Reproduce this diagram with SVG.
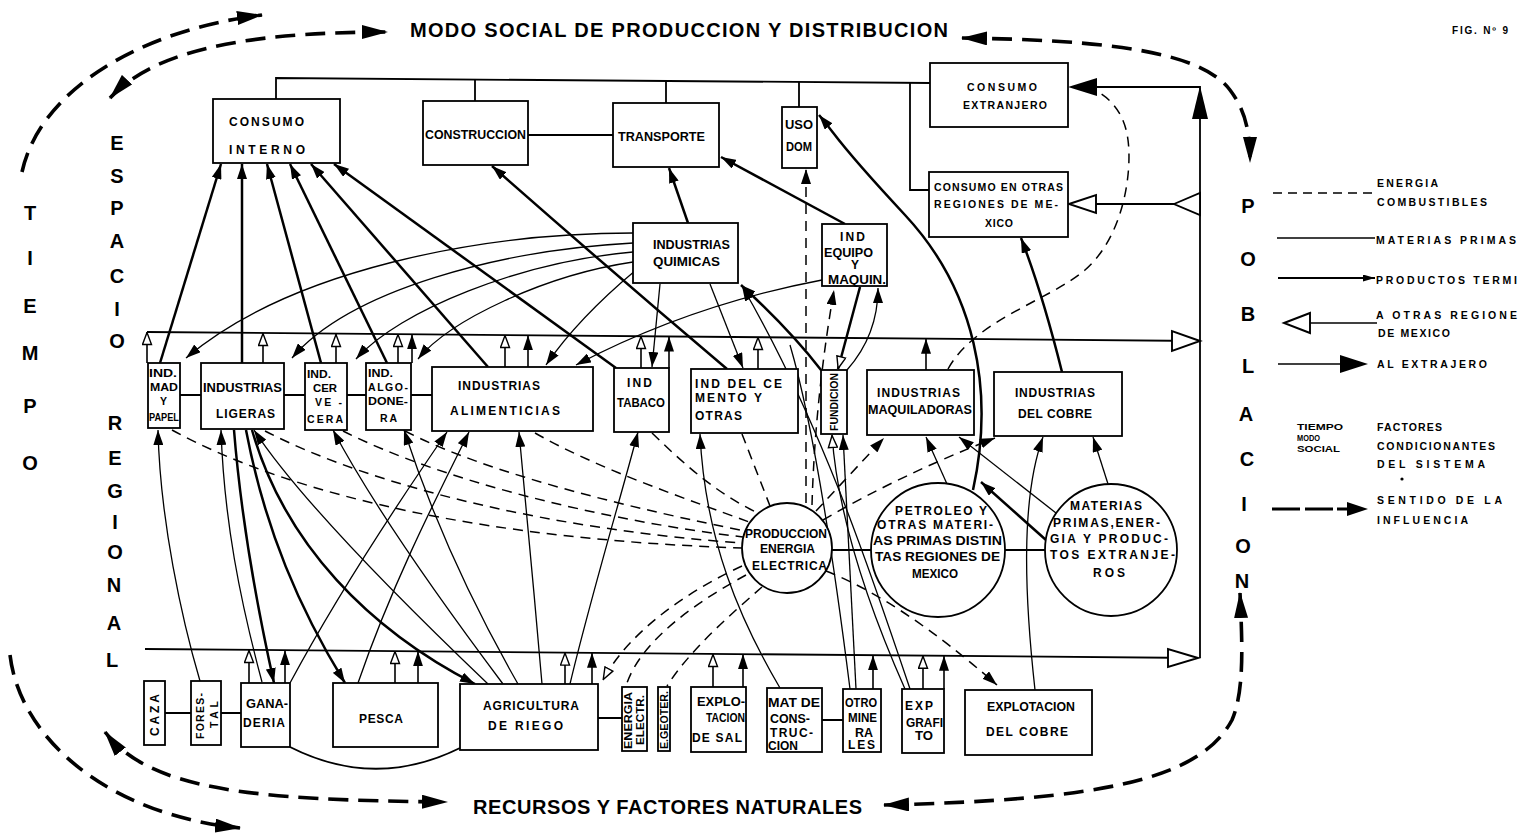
<svg xmlns="http://www.w3.org/2000/svg" width="1518" height="834" viewBox="0 0 1518 834">
<defs>
<style>
.b{fill:#fff;stroke:#000;stroke-width:1.8}
text{font-family:"Liberation Sans",Arial,sans-serif;font-weight:bold;fill:#000}
.t{font-size:12px}
.s{font-size:10.5px}
.v{font-size:20px;text-anchor:middle}
.lg{font-size:10.5px}
.ln{fill:none;stroke:#000;stroke-width:1.8}
.tn{fill:none;stroke:#000;stroke-width:1.3}
.tk{fill:none;stroke:#000;stroke-width:2.5}
.dh{fill:none;stroke:#000;stroke-width:1.5;stroke-dasharray:10 7}
.inf{fill:none;stroke:#000;stroke-width:3.6;stroke-dasharray:20 10}
.ua{fill:none;stroke:#000;stroke-width:1.6}
.ot{fill:#fff;stroke:#000;stroke-width:1.9}
</style>
<marker id="f" markerUnits="userSpaceOnUse" markerWidth="15" markerHeight="10" refX="15" refY="5" orient="auto"><path d="M0,0L15,5L0,10z" fill="#000"/></marker>
<marker id="o" markerUnits="userSpaceOnUse" markerWidth="14" markerHeight="11" refX="13.5" refY="5.5" orient="auto"><path d="M1,1L13,5.5L1,10z" fill="#fff" stroke="#000" stroke-width="1.4"/></marker>
<marker id="B" markerUnits="userSpaceOnUse" markerWidth="26" markerHeight="14" refX="25" refY="7" orient="auto-start-reverse"><path d="M0,0L26,7L0,14z" fill="#000"/></marker>
<marker id="sm" markerUnits="userSpaceOnUse" markerWidth="12" markerHeight="7" refX="12" refY="3.5" orient="auto"><path d="M0,0L12,3.5L0,7z" fill="#000"/></marker>
</defs>
<rect width="1518" height="834" fill="#fff"/>

<g id="titles">
<text x="410" y="37" font-size="20" textLength="538" lengthAdjust="spacing">MODO SOCIAL DE PRODUCCION Y DISTRIBUCION</text>
<text x="473" y="814" font-size="20" textLength="389" lengthAdjust="spacing">RECURSOS Y FACTORES NATURALES</text>
<text x="1452" y="34" font-size="10" textLength="56" lengthAdjust="spacing">FIG. Nº 9</text>
</g>
<g id="tiempo" class="v">
<text x="30" y="220">T</text><text x="30" y="265">I</text><text x="30" y="313">E</text><text x="30" y="360">M</text><text x="30" y="413">P</text><text x="30" y="470">O</text>
</g>
<g id="espacio-regional" class="v">
<text x="117" y="150">E</text><text x="117" y="183">S</text><text x="117" y="215">P</text><text x="117" y="248">A</text><text x="117" y="283">C</text><text x="117" y="316">I</text><text x="117" y="348">O</text>
<text x="115" y="430">R</text><text x="115" y="465">E</text><text x="115" y="498">G</text><text x="115" y="529">I</text><text x="115" y="559">O</text><text x="114" y="592">N</text><text x="114" y="630">A</text><text x="112" y="667">L</text>
</g>
<g id="poblacion" class="v">
<text x="1248" y="213">P</text><text x="1248" y="266">O</text><text x="1248" y="321">B</text><text x="1248" y="373">L</text><text x="1246" y="421">A</text><text x="1247" y="466">C</text><text x="1244" y="511">I</text><text x="1243" y="553">O</text><text x="1242" y="588">N</text>
</g>

<g id="connectors">
<path class="ln" d="M276,99 V78 L930,83"/>
<path class="ln" d="M475,101 V80 M666,103 V81 M799,107 V82"/>
<path class="ln" d="M910,83 V190 H929"/>
<path class="ln" d="M528,135 H613"/>
<path class="ln" d="M1200,658 V87 H1096"/>
<polygon points="1200,86 1192,119 1208,119" fill="#000"/>
<polygon points="1068,87 1097,78 1097,96" fill="#000"/>
<path class="ln" d="M1200,204 H1096"/>
<polygon class="ot" points="1069,204 1096,195 1096,213"/>
<polygon class="ot" points="1174,204 1200,193 1200,215"/>
<path class="ln" d="M147,332 L1200,341"/>
<polygon class="ot" points="1200,341 1172,331 1172,351"/>
<path class="ln" d="M145,649 L1198,658"/>
<polygon class="ot" points="1198,658 1168,649 1168,667"/>
<path class="ln" d="M180,395 H201 M284,395 H305 M347,395 H366 M411,395 H432"/>
<path class="ln" d="M165,713 H191 M221,713 H241 M598,718 H622 M822,720 H843"/>
<path class="ln" d="M832,550 H872 M1005,550 H1045"/>
<path class="ln" d="M290,747 Q375,790 460,748"/>

<g class="ua" marker-end="url(#o)">
<path d="M147,363 V332"/><path d="M263,363 V333"/><path d="M336,363 V334"/><path d="M398,363 V334"/><path d="M505,367 V335"/><path d="M641,368 V336"/><path d="M758,369 V337"/>
<path d="M249,683 V650"/><path d="M395,683 V651"/><path d="M565,684 V652.6"/><path d="M713,687 V654"/><path d="M923,689 V655.7"/>
</g>
<g class="ua" marker-end="url(#f)">
<path d="M412,363 V334.3"/><path d="M528,367 V335.3"/><path d="M669,368 V336.5"/><path d="M926,370 V338.7"/>
<path d="M285,683 V650.2"/><path d="M418,683 V651.3"/><path d="M592,684 V652.8"/><path d="M743,687 V654.1"/><path d="M873,689 V655.2"/><path d="M944,689 V655.8"/>
</g>

<g class="tk" marker-end="url(#f)">
<path d="M160,363 L221,164"/>
<path d="M242,363 V164"/>
<path d="M321,363 L267,164"/>
<path d="M387,363 L290,164"/>
<path d="M488,367 L311,164"/>
<path d="M616,368 L334,164"/>
<path d="M727,369 Q610,270 492,166"/>
<path d="M688,223 L669,168"/>
<path d="M845,224 L721,157"/>
<path d="M821,370 Q790,330 741,285"/>
<path d="M973,490 C995,390 975,290 905,215 S840,140 819,115"/>
<path d="M1062,372 Q1042,292 1021,238"/>
<path d="M1046,540 L981,482"/>
<path d="M234,430 C242,530 260,620 274,683"/>
<path d="M246,430 C265,530 300,610 345,683"/>
<path d="M252,430 C285,545 370,630 475,684"/>
</g>
<path class="tk" d="M860,287 L838,369" marker-end="url(#o)"/>

<g class="tn" marker-end="url(#f)">
<path d="M200,681 C182,620 160,520 158,430"/>
<path d="M262,682 C240,600 224,520 221,430"/>
<path d="M290,683 C340,590 400,500 447,432"/>
<path d="M358,683 C390,590 430,510 469,432"/>
<path d="M488,684 C400,600 300,500 254,430"/>
<path d="M503,684 C440,600 370,500 333,430"/>
<path d="M518,684 C470,600 430,510 404,430"/>
<path d="M542,684 C535,600 525,500 519,432"/>
<path d="M570,684 C590,600 620,500 638,432"/>
<path d="M780,688 C740,620 705,540 700,434"/>
<path d="M856,689 L843,435"/>
<path d="M910,689 C870,570 820,420 742,286"/>
<path d="M947,484 L926,437"/>
<path d="M1056,513 L959,437"/>
<path d="M1108,484 L1093,437"/>
<path d="M1035,690 C1025,600 1020,500 1043,437"/>
<path d="M847,370 Q878,335 878,288"/>
<path d="M633,233 C480,233 290,270 186,358"/>
<path d="M633,243 C500,250 350,290 292,358"/>
<path d="M633,252 C520,262 400,310 356,359"/>
<path d="M633,262 C545,275 450,320 418,359"/>
<path d="M636,270 C600,300 570,330 546,365"/>
<path d="M822,280 Q690,305 576,365"/>
<path d="M660,284 L652,367"/>
<path d="M710,284 L743,368"/>
</g>
<path class="tn" d="M905,689 C870,610 838,520 832,435" marker-end="url(#o)"/>
<path class="tn" d="M850,689 C835,570 815,430 790,345"/>

<g class="dh">
<path d="M172,430 C300,500 500,540 742,548"/>
<path d="M265,431 C380,490 560,530 742,543"/>
<path d="M343,431 C440,480 600,520 743,537"/>
<path d="M405,431 C490,475 640,510 745,531"/>
<path d="M535,433 C600,470 690,500 749,522"/>
<path d="M652,433 C690,470 720,495 758,513"/>
<path d="M742,434 L770,506"/>
<path d="M746,575 C700,600 640,640 626,686"/>
<path d="M762,587 C730,615 690,650 667,686"/>
<path d="M948,369 C975,320 1050,300 1085,270 C1125,235 1132,170 1128,140 C1125,115 1112,100 1098,92"/>
</g>
<g class="dh" marker-end="url(#f)">
<path d="M806,503 V169"/>
<path d="M812,505 Q815,400 834,290"/>
<path d="M816,511 L884,438"/>
<path d="M823,520 Q900,475 995,438"/>
<path d="M826,571 Q900,600 997,685"/>
</g>
<path class="dh" d="M742,566 C690,590 630,630 603,680" marker-end="url(#o)"/>

<g class="inf">
<path d="M22,172 C40,90 140,30 262,15" marker-end="url(#B)"/>
<path d="M110,98 C150,55 230,32 387,32" marker-start="url(#B)" marker-end="url(#B)"/>
<path d="M962,38 C1100,40 1200,50 1230,90 C1245,110 1250,130 1250,162" marker-start="url(#B)" marker-end="url(#B)"/>
<path d="M10,655 C20,740 110,815 240,828" marker-end="url(#B)"/>
<path d="M105,732 C150,790 250,800 447,802" marker-start="url(#B)" marker-end="url(#B)"/>
<path d="M884,805 C1100,800 1200,780 1232,720 C1245,690 1242,640 1240,593" marker-start="url(#B)" marker-end="url(#B)"/>
</g>
</g>

<g id="consumo-interno"><rect class="b" x="213" y="99" width="127" height="64"/><text class="t" x="229" y="126" textLength="75" lengthAdjust="spacing">CONSUMO</text><text class="t" x="229" y="154" textLength="76" lengthAdjust="spacing">INTERNO</text></g>
<g id="construccion"><rect class="b" x="423" y="101" width="105" height="64"/><text class="t" x="425" y="139" textLength="101" lengthAdjust="spacingAndGlyphs">CONSTRUCCION</text></g>
<g id="transporte"><rect class="b" x="613" y="103" width="106" height="64"/><text class="t" x="618" y="141" textLength="87" lengthAdjust="spacingAndGlyphs">TRANSPORTE</text></g>
<g id="uso-dom"><rect class="b" x="782" y="107" width="35" height="61"/><text class="t" x="785" y="129" textLength="28" lengthAdjust="spacingAndGlyphs">USO</text><text class="t" x="786" y="151" textLength="26" lengthAdjust="spacingAndGlyphs">DOM</text></g>
<g id="consumo-extranjero"><rect class="b" x="930" y="63" width="138" height="64"/><text class="s" x="967" y="91" textLength="70" lengthAdjust="spacing">CONSUMO</text><text class="s" x="963" y="109" textLength="84" lengthAdjust="spacing">EXTRANJERO</text></g>
<g id="consumo-otras-regiones"><rect class="b" x="929" y="172" width="139" height="65"/><text class="s" x="934" y="191" textLength="129" lengthAdjust="spacing">CONSUMO EN OTRAS</text><text class="s" x="934" y="208" textLength="124" lengthAdjust="spacing">REGIONES DE ME-</text><text class="s" x="985" y="227" textLength="28" lengthAdjust="spacing">XICO</text></g>
<g id="industrias-quimicas"><rect class="b" x="633" y="223" width="105" height="60"/><text class="t" x="653" y="249" textLength="77" lengthAdjust="spacingAndGlyphs">INDUSTRIAS</text><text class="t" x="653" y="266" textLength="67" lengthAdjust="spacingAndGlyphs">QUIMICAS</text></g>
<g id="ind-equipo"><rect class="b" x="822" y="224" width="65" height="62"/><text class="t" x="840" y="241" textLength="25" lengthAdjust="spacing">IND</text><text class="t" x="824" y="257" textLength="49" lengthAdjust="spacingAndGlyphs">EQUIPO</text><text class="t" x="851" y="269">Y</text><text class="t" x="828" y="284" textLength="58" lengthAdjust="spacingAndGlyphs">MAQUIN.</text></g>

<g id="ind-mad-papel"><rect class="b" x="148" y="363" width="32" height="65"/><text class="s" x="149" y="377" textLength="28" lengthAdjust="spacingAndGlyphs">IND.</text><text class="s" x="150" y="391" textLength="28" lengthAdjust="spacingAndGlyphs">MAD</text><text class="s" x="160" y="405">Y</text><text class="s" x="149" y="421" textLength="30" lengthAdjust="spacingAndGlyphs">PAPEL</text></g>
<g id="industrias-ligeras"><rect class="b" x="201" y="363" width="83" height="66"/><text class="t" x="203" y="392" textLength="79" lengthAdjust="spacingAndGlyphs">INDUSTRIAS</text><text class="t" x="216" y="418" textLength="59" lengthAdjust="spacing">LIGERAS</text></g>
<g id="ind-cervecera"><rect class="b" x="305" y="363" width="42" height="67"/><text class="s" x="307" y="378" textLength="24" lengthAdjust="spacingAndGlyphs">IND.</text><text class="s" x="313" y="392" textLength="24" lengthAdjust="spacingAndGlyphs">CER</text><text class="s" x="315" y="406" textLength="27" lengthAdjust="spacing">VE -</text><text class="s" x="307" y="423" textLength="36" lengthAdjust="spacing">CERA</text></g>
<g id="ind-algodonera"><rect class="b" x="366" y="363" width="45" height="67"/><text class="s" x="368" y="377" textLength="25" lengthAdjust="spacingAndGlyphs">IND.</text><text class="s" x="368" y="391" textLength="40" lengthAdjust="spacing">ALGO-</text><text class="s" x="368" y="405" textLength="40" lengthAdjust="spacingAndGlyphs">DONE-</text><text class="s" x="380" y="422" textLength="17" lengthAdjust="spacing">RA</text></g>
<g id="industrias-alimenticias"><rect class="b" x="432" y="367" width="161" height="64"/><text class="t" x="458" y="390" textLength="82" lengthAdjust="spacing">INDUSTRIAS</text><text class="t" x="450" y="415" textLength="110" lengthAdjust="spacing">ALIMENTICIAS</text></g>
<g id="ind-tabaco"><rect class="b" x="614" y="368" width="55" height="64"/><text class="t" x="627" y="387" textLength="25" lengthAdjust="spacing">IND</text><text class="t" x="617" y="407" textLength="48" lengthAdjust="spacingAndGlyphs">TABACO</text></g>
<g id="ind-cemento"><rect class="b" x="691" y="369" width="107" height="64"/><text class="t" x="695" y="388" textLength="87" lengthAdjust="spacing">IND  DEL  CE</text><text class="t" x="695" y="402" textLength="67" lengthAdjust="spacing">MENTO  Y</text><text class="t" x="695" y="420" textLength="47" lengthAdjust="spacing">OTRAS</text></g>
<g id="fundicion"><rect class="b" x="821" y="370" width="26" height="64"/><text class="s" transform="translate(838,431) rotate(-90)" textLength="58" lengthAdjust="spacingAndGlyphs">FUNDICION</text></g>
<g id="industrias-maquiladoras"><rect class="b" x="867" y="370" width="107" height="65"/><text class="t" x="877" y="397" textLength="83" lengthAdjust="spacing">INDUSTRIAS</text><text class="t" x="868" y="414" textLength="104" lengthAdjust="spacingAndGlyphs">MAQUILADORAS</text></g>
<g id="industrias-cobre"><rect class="b" x="994" y="372" width="128" height="64"/><text class="t" x="1015" y="397" textLength="80" lengthAdjust="spacing">INDUSTRIAS</text><text class="t" x="1018" y="418" textLength="74" lengthAdjust="spacing">DEL COBRE</text></g>

<g id="produccion-energia"><circle class="b" cx="787" cy="548" r="45"/><text class="t" x="745" y="538" textLength="82" lengthAdjust="spacingAndGlyphs">PRODUCCION</text><text class="t" x="760" y="553" textLength="55" lengthAdjust="spacingAndGlyphs">ENERGIA</text><text class="t" x="752" y="570" textLength="75" lengthAdjust="spacing">ELECTRICA</text></g>
<g id="petroleo"><circle class="b" cx="938" cy="550" r="67"/><text class="t" x="895" y="515" textLength="92" lengthAdjust="spacing">PETROLEO Y</text><text class="t" x="877" y="529" textLength="116" lengthAdjust="spacing">OTRAS MATERI-</text><text class="t" x="873" y="545" textLength="129" lengthAdjust="spacingAndGlyphs">AS PRIMAS DISTIN</text><text class="t" x="875" y="561" textLength="125" lengthAdjust="spacingAndGlyphs">TAS REGIONES DE</text><text class="t" x="912" y="578" textLength="46" lengthAdjust="spacingAndGlyphs">MEXICO</text></g>
<g id="materias-extranjeras"><circle class="b" cx="1111" cy="550" r="66"/><text class="t" x="1070" y="510" textLength="72" lengthAdjust="spacing">MATERIAS</text><text class="t" x="1053" y="527" textLength="107" lengthAdjust="spacing">PRIMAS,ENER-</text><text class="t" x="1050" y="543" textLength="118" lengthAdjust="spacing">GIA Y PRODUC-</text><text class="t" x="1050" y="559" textLength="125" lengthAdjust="spacing">TOS EXTRANJE-</text><text class="t" x="1093" y="577" textLength="32" lengthAdjust="spacing">ROS</text></g>

<g id="caza"><rect class="b" x="144" y="681" width="21" height="64"/><text class="t" transform="translate(159,736) rotate(-90)" textLength="42" lengthAdjust="spacing">CAZA</text></g>
<g id="forestal"><rect class="b" x="191" y="681" width="30" height="64"/><text class="s" transform="translate(204,739) rotate(-90)" textLength="46" lengthAdjust="spacing">FORES-</text><text class="s" transform="translate(218,728) rotate(-90)" textLength="27" lengthAdjust="spacing">TAL</text></g>
<g id="ganaderia"><rect class="b" x="241" y="683" width="49" height="64"/><text class="t" x="246" y="708" textLength="42" lengthAdjust="spacingAndGlyphs">GANA-</text><text class="t" x="243" y="727" textLength="42" lengthAdjust="spacing">DERIA</text></g>
<g id="pesca"><rect class="b" x="333" y="683" width="105" height="64"/><text class="t" x="359" y="723" textLength="44" lengthAdjust="spacing">PESCA</text></g>
<g id="agricultura-riego"><rect class="b" x="460" y="684" width="138" height="66"/><text class="t" x="483" y="710" textLength="96" lengthAdjust="spacing">AGRICULTURA</text><text class="t" x="488" y="730" textLength="75" lengthAdjust="spacing">DE  RIEGO</text></g>
<g id="energia-electr"><rect class="b" x="622" y="687" width="25" height="64"/><text class="s" transform="translate(632,749) rotate(-90)" textLength="57" lengthAdjust="spacingAndGlyphs">ENERGIA</text><text class="s" transform="translate(644,745) rotate(-90)" textLength="50" lengthAdjust="spacingAndGlyphs">ELECTR.</text></g>
<g id="geoter"><rect class="b" x="658" y="687" width="12" height="64"/><text class="s" transform="translate(668,749) rotate(-90)" textLength="58" lengthAdjust="spacingAndGlyphs">E.GEOTER.</text></g>
<g id="explotacion-sal"><rect class="b" x="691" y="687" width="55" height="65"/><text class="t" x="697" y="706" textLength="48" lengthAdjust="spacingAndGlyphs">EXPLO-</text><text class="t" x="706" y="722" textLength="39" lengthAdjust="spacingAndGlyphs">TACION</text><text class="t" x="692" y="742" textLength="50" lengthAdjust="spacing">DE  SAL</text></g>
<g id="mat-construccion"><rect class="b" x="767" y="688" width="55" height="64"/><text class="t" x="768" y="707" textLength="52" lengthAdjust="spacingAndGlyphs">MAT DE</text><text class="t" x="770" y="723" textLength="40" lengthAdjust="spacingAndGlyphs">CONS-</text><text class="t" x="770" y="737" textLength="43" lengthAdjust="spacing">TRUC-</text><text class="t" x="768" y="750" textLength="30" lengthAdjust="spacingAndGlyphs">CION</text></g>
<g id="otro-minerales"><rect class="b" x="843" y="689" width="38" height="63"/><text class="t" x="845" y="707" textLength="32" lengthAdjust="spacingAndGlyphs">OTRO</text><text class="t" x="848" y="722" textLength="29" lengthAdjust="spacingAndGlyphs">MINE</text><text class="t" x="855" y="737" textLength="18" lengthAdjust="spacingAndGlyphs">RA</text><text class="t" x="848" y="749" textLength="27" lengthAdjust="spacing">LES</text></g>
<g id="exp-grafito"><rect class="b" x="902" y="689" width="42" height="64"/><text class="t" x="905" y="710" textLength="28" lengthAdjust="spacing">EXP</text><text class="t" x="906" y="727" textLength="37" lengthAdjust="spacingAndGlyphs">GRAFI</text><text class="t" x="915" y="740" textLength="18" lengthAdjust="spacingAndGlyphs">TO</text></g>
<g id="explotacion-cobre"><rect class="b" x="965" y="690" width="127" height="65"/><text class="t" x="987" y="711" textLength="88" lengthAdjust="spacingAndGlyphs">EXPLOTACION</text><text class="t" x="986" y="736" textLength="82" lengthAdjust="spacing">DEL  COBRE</text></g>

<g id="legend">
<path class="dh" d="M1273,193 H1373" style="stroke-dasharray:9 6"/>
<text class="lg" x="1377" y="187" textLength="61" lengthAdjust="spacing">ENERGIA</text>
<text class="lg" x="1377" y="206" textLength="110" lengthAdjust="spacing">COMBUSTIBLES</text>
<path class="ln" d="M1277,238 H1375" style="stroke-width:1.4"/>
<text class="lg" x="1376" y="244" textLength="140" lengthAdjust="spacing">MATERIAS PRIMAS</text>
<path class="tk" d="M1278,278 H1375" style="stroke-width:1.8" marker-end="url(#sm)"/>
<text class="lg" x="1376" y="284" textLength="141" lengthAdjust="spacing">PRODUCTOS TERMI</text>
<path class="ln" d="M1310,323 H1377" style="stroke-width:1.4"/>
<polygon class="ot" points="1284,323 1310,313 1310,333"/>
<text class="lg" x="1376" y="319" textLength="141" lengthAdjust="spacing">A OTRAS REGIONE</text>
<text class="lg" x="1378" y="337" textLength="72" lengthAdjust="spacing">DE MEXICO</text>
<path class="ln" d="M1278,364 H1342" style="stroke-width:1.6"/>
<polygon points="1340,355 1368,364 1340,373" fill="#000"/>
<text class="lg" x="1377" y="368" textLength="110" lengthAdjust="spacing">AL EXTRAJERO</text>
<text x="1297" y="430" font-size="9.5" textLength="46" lengthAdjust="spacingAndGlyphs">TIEMPO</text>
<text x="1297" y="441" font-size="9" textLength="23" lengthAdjust="spacingAndGlyphs">MODO</text>
<text x="1297" y="452" font-size="9.5" textLength="43" lengthAdjust="spacingAndGlyphs">SOCIAL</text>
<text class="lg" x="1377" y="431" textLength="65" lengthAdjust="spacing">FACTORES</text>
<text class="lg" x="1377" y="450" textLength="118" lengthAdjust="spacing">CONDICIONANTES</text>
<text class="lg" x="1377" y="468" textLength="108" lengthAdjust="spacing">DEL SISTEMA</text>
<circle cx="1402" cy="479" r="1.6" fill="#000"/>
<path d="M1272,509 H1300 M1305,509 H1333 M1337,509 H1349" fill="none" stroke="#000" stroke-width="3.2"/>
<polygon points="1347,502 1368,509 1347,516" fill="#000"/>
<text class="lg" x="1377" y="504" textLength="125" lengthAdjust="spacing">SENTIDO DE LA</text>
<text class="lg" x="1377" y="524" textLength="91" lengthAdjust="spacing">INFLUENCIA</text>
</g>
</svg>
